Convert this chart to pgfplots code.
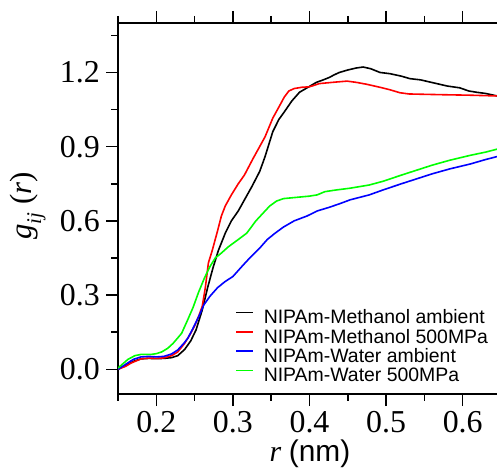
\documentclass[border=0pt]{standalone}
\usepackage{fontspec}
\setmainfont{Liberation Serif}
\newfontfamily\arial{Liberation Sans}
\usepackage{pgfplots}
\pgfplotsset{compat=1.18}
\begin{document}
\begin{tikzpicture}[x=1bp,y=1bp]
\path[use as bounding box] (0,0) rectangle (497,468);
\begin{axis}[
  at={(118bp,74bp)}, anchor=south west,
  scale only axis, width=379bp, height=371bp,
  xmin=0.15, xmax=0.6448, ymin=-0.1, ymax=1.4,
  axis x line*=box, axis y line*=left,
  axis line style={line width=1.8bp},
  xtick={0.2,0.3,0.4,0.5,0.6},
  xticklabels={0.2,0.3,0.4,0.5,0.6},
  minor xtick={0.15,0.25,0.35,0.45,0.55},
  ytick={0,0.3,0.6,0.9,1.2},
  yticklabels={0.0,0.3,0.6,0.9,1.2},
  minor ytick={0.15,0.45,0.75,1.05,1.35},
  tick align=outside,
  major tick length=12bp, minor tick length=7bp,
  every tick/.style={line width=1.5bp, black},
  tick label style={font=\fontsize{32}{32}\selectfont},
  xticklabel style={inner sep=0pt, yshift=-5bp},
  yticklabel style={inner sep=0pt, xshift=-6bp},
  legend style={at={(axis cs:0.303,0.242)}, anchor=north west, draw=none, fill=none,
    inner sep=0pt, outer sep=0pt,
    font=\arial\fontsize{19.5}{19.5}\selectfont,
    nodes={inner sep=0pt, text height=14.3bp, text depth=5bp},
    /tikz/every odd column/.style={column sep=10bp}},
  legend cell align=left,
  legend image code/.code={\draw[#1] (0bp,6.5bp) -- (17bp,6.5bp);},
  every axis plot/.append style={line width=1.6bp},
]
\addplot[black] coordinates {
(0.150,0.000) (0.160,0.015) (0.170,0.032) (0.180,0.042) (0.190,0.044)
(0.200,0.043) (0.210,0.044) (0.220,0.047) (0.228,0.055) (0.237,0.080)
(0.245,0.115) (0.252,0.160) (0.260,0.240) (0.267,0.330) (0.274,0.410)
(0.281,0.480) (0.290,0.550) (0.298,0.600) (0.307,0.640) (0.316,0.690)
(0.325,0.740) (0.335,0.800) (0.342,0.860) (0.352,0.960) (0.360,1.010)
(0.367,1.040) (0.377,1.085) (0.387,1.120) (0.398,1.140) (0.409,1.160)
(0.418,1.170) (0.426,1.180) (0.432,1.190) (0.439,1.200) (0.450,1.210)
(0.461,1.218) (0.470,1.222) (0.480,1.215) (0.492,1.200) (0.505,1.195)
(0.520,1.185) (0.531,1.175) (0.545,1.170) (0.566,1.155) (0.580,1.145)
(0.596,1.138) (0.608,1.125) (0.618,1.120) (0.630,1.115) (0.645,1.105)
};
\addlegendentry{NIPAm-Methanol ambient}
\addplot[red] coordinates {
(0.150,0.000) (0.160,0.012) (0.167,0.025) (0.180,0.042) (0.190,0.045)
(0.200,0.044) (0.210,0.046) (0.220,0.055) (0.228,0.070) (0.237,0.105)
(0.244,0.140) (0.250,0.175) (0.256,0.220) (0.260,0.255) (0.264,0.330)
(0.268,0.430) (0.273,0.480) (0.280,0.560) (0.285,0.620) (0.290,0.660)
(0.298,0.705) (0.307,0.750) (0.315,0.785) (0.326,0.850) (0.334,0.895)
(0.342,0.940) (0.352,1.015) (0.360,1.060) (0.367,1.100) (0.373,1.125)
(0.380,1.135) (0.390,1.140) (0.400,1.142) (0.413,1.155) (0.430,1.160)
(0.449,1.165) (0.461,1.160) (0.475,1.152) (0.492,1.140) (0.505,1.130)
(0.518,1.118) (0.530,1.113) (0.574,1.110) (0.610,1.108) (0.645,1.105)
};
\addlegendentry{NIPAm-Methanol 500MPa}
\addplot[blue] coordinates {
(0.150,0.000) (0.160,0.020) (0.170,0.040) (0.180,0.050) (0.190,0.052)
(0.200,0.050) (0.210,0.052) (0.220,0.062) (0.228,0.078) (0.236,0.105)
(0.241,0.125) (0.247,0.160) (0.255,0.210) (0.262,0.260) (0.270,0.295)
(0.280,0.330) (0.290,0.355) (0.300,0.375) (0.313,0.420) (0.322,0.450)
(0.335,0.490) (0.345,0.525) (0.355,0.550) (0.366,0.575) (0.380,0.600)
(0.397,0.620) (0.410,0.640) (0.426,0.655) (0.440,0.670) (0.453,0.685)
(0.478,0.705) (0.496,0.725) (0.520,0.750) (0.540,0.770) (0.560,0.790)
(0.583,0.810) (0.610,0.830) (0.630,0.848) (0.645,0.860)
};
\addlegendentry{NIPAm-Water ambient}
\addplot[green] coordinates {
(0.150,0.005) (0.163,0.040) (0.172,0.055) (0.180,0.060) (0.193,0.060)
(0.200,0.063) (0.207,0.070) (0.215,0.085) (0.222,0.105) (0.233,0.145)
(0.241,0.200) (0.248,0.250) (0.255,0.310) (0.263,0.370) (0.270,0.415)
(0.277,0.450) (0.285,0.470) (0.294,0.495) (0.305,0.520) (0.318,0.550)
(0.330,0.600) (0.339,0.630) (0.348,0.660) (0.357,0.680) (0.366,0.690)
(0.383,0.695) (0.400,0.700) (0.410,0.705) (0.420,0.718) (0.435,0.725)
(0.453,0.732) (0.478,0.745) (0.496,0.760) (0.520,0.785) (0.540,0.805)
(0.560,0.825) (0.583,0.845) (0.610,0.865) (0.630,0.878) (0.645,0.890)
};
\addlegendentry{NIPAm-Water 500MPa}
\end{axis}
\node[rotate=90, anchor=center] at (28,262) {\fontsize{31}{31}\selectfont\textit{g}\raisebox{-0.3em}{\fontsize{21}{21}\selectfont\textit{ij}}\ (\textit{r})};
\node[anchor=base, inner sep=0pt] at (310,6.5) {\fontsize{30}{30}\selectfont\textit{r} {\arial(nm)}};
\end{tikzpicture}
\end{document}
